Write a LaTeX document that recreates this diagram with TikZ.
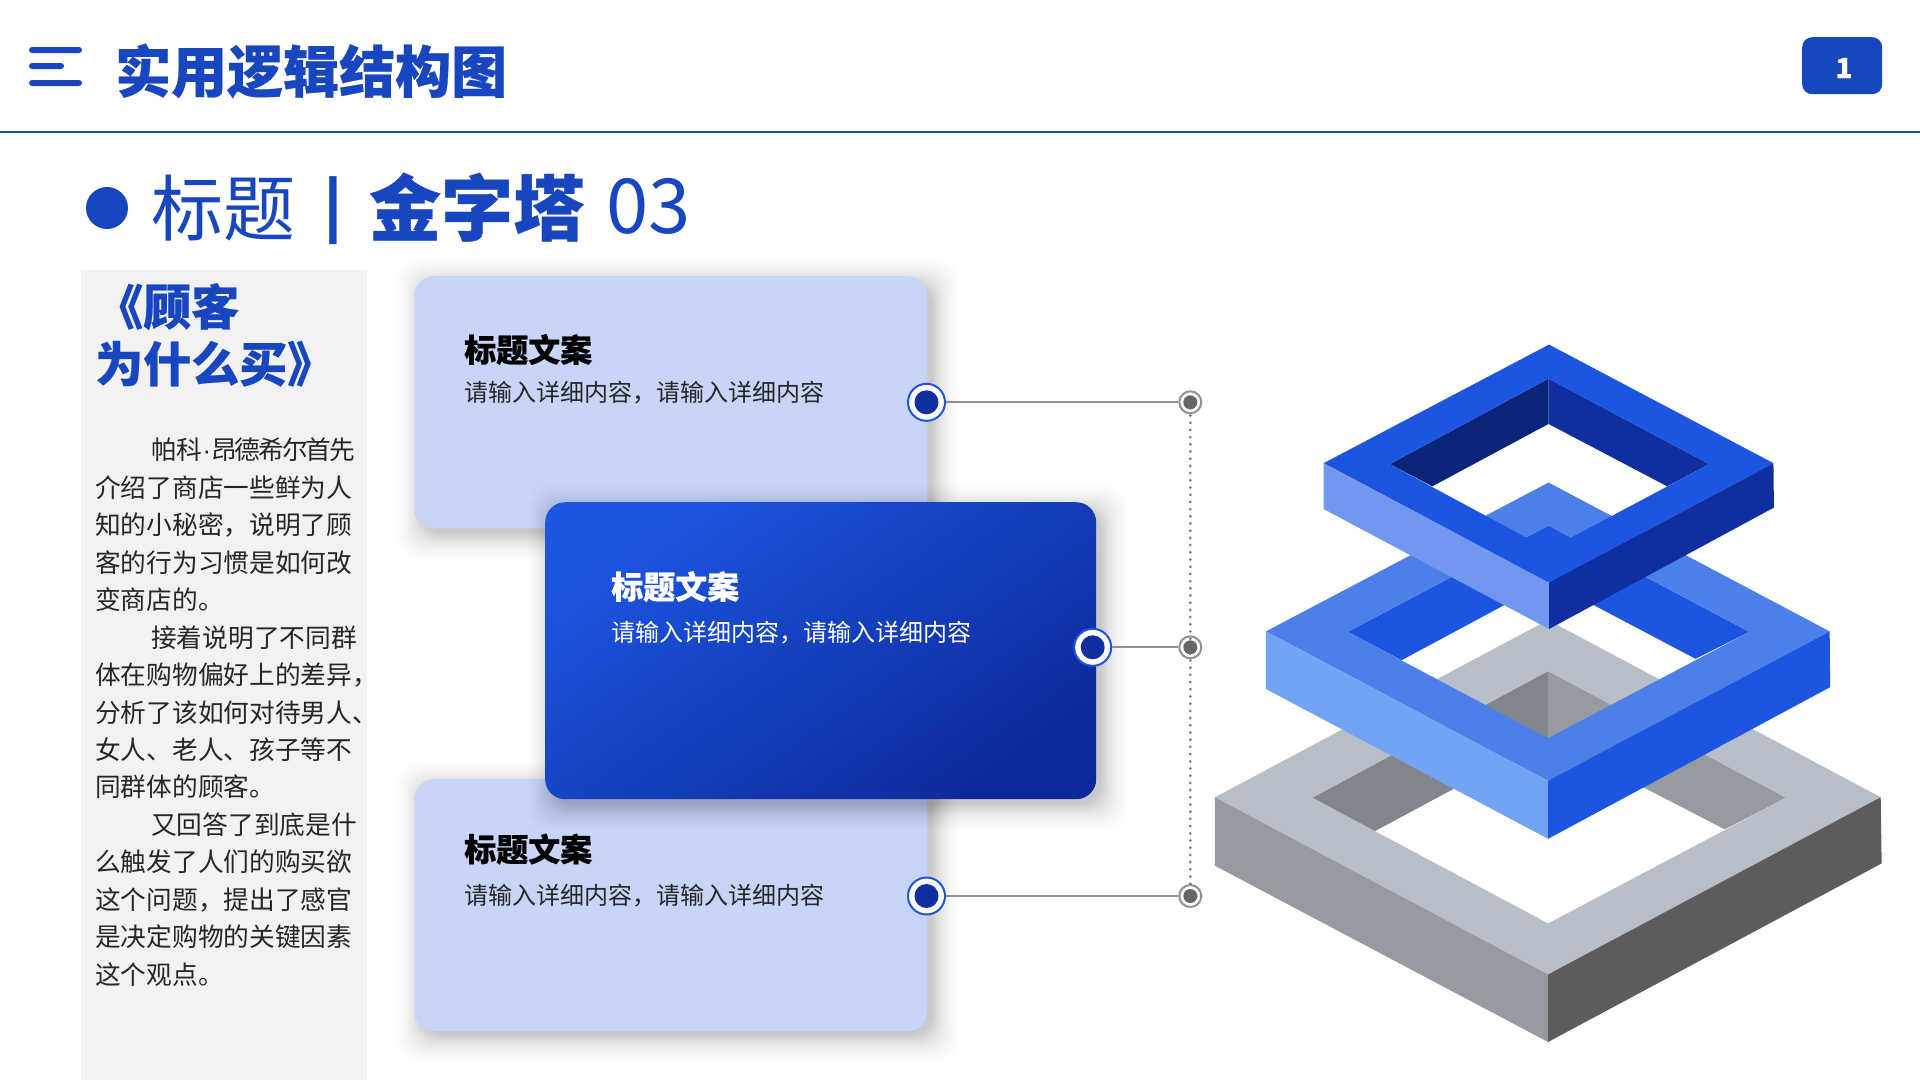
\documentclass[tikz,border=0pt]{standalone}
\usepackage{fontspec}
\setmainfont{Noto Sans CJK SC}[BoldFeatures={FakeBold=0.5}]
\newfontfamily\narrowfont{Liberation Sans}
\usetikzlibrary{calc}
\definecolor{brand}{HTML}{1746C0}
\definecolor{rule}{HTML}{1D49A8}
\definecolor{panel}{HTML}{F2F2F2}
\definecolor{cardlight}{HTML}{C8D5F8}
\definecolor{cardA}{HTML}{1C55E0}
\definecolor{cardB}{HTML}{0D2A9A}
\definecolor{dotblue}{HTML}{0F2FA0}
\definecolor{ringgrey}{HTML}{909090}
\definecolor{dotgrey}{HTML}{666666}
\definecolor{bodytext}{HTML}{262626}
\definecolor{tA}{HTML}{1C55E0}\definecolor{tL}{HTML}{7197EE}\definecolor{tR}{HTML}{0F2FA0}\definecolor{tD}{HTML}{0A2478}
\definecolor{mA}{HTML}{4C80E8}\definecolor{mL}{HTML}{72A3F5}\definecolor{mR}{HTML}{1C55E0}
\definecolor{gA}{HTML}{B7BEC7}\definecolor{gL}{HTML}{969BA2}\definecolor{gR}{HTML}{5C5C5C}\definecolor{gD}{HTML}{81868C}
\newcommand{\fs}[2]{\fontsize{#1}{#2}\selectfont}
\newcommand{\softshadow}[4]{% x y w h
  \foreach \e in {24,21,18.5,16,14,12,10.5,9,7.5,6,5,4,3,2,1,0,-1,-2}{
    \fill[black,opacity=0.012,rounded corners=22pt]
      ({#1+7-\e},{#2+7-\e}) rectangle ({#1+#3+7+\e},{#2+#4+7+\e});
  }}
\tikzset{
  lightcard/.style={anchor=north west,inner sep=0pt,minimum width=513pt,minimum height=252pt,fill=cardlight,rounded corners=20pt},
  bluecard/.style={anchor=north west,inner sep=0pt,minimum width=551pt,minimum height=298pt,rounded corners=20pt,left color=cardA,right color=cardB,shading angle=35},
  cardhead/.style={anchor=west,inner sep=0pt,font=\fs{32}{36}\bfseries},
  cardsub/.style={anchor=west,inner sep=0pt,font=\fs{24}{28}},
  bigring/.style={circle,fill=white,draw=cardA,line width=2pt,minimum size=37pt,inner sep=0pt},
  bigdot/.style={circle,fill=dotblue,minimum size=24pt,inner sep=0pt},
  smallring/.style={circle,fill=white,draw=ringgrey,line width=2pt,minimum size=22pt,inner sep=0pt},
  smalldot/.style={circle,fill=dotgrey,minimum size=14pt,inner sep=0pt},
  link/.style={draw=ringgrey,line width=2pt},
  dotlink/.style={draw=ringgrey!85!black,line width=3pt,line cap=round,dash pattern=on 0pt off 7.2pt},
  menubar/.style={fill=brand,rounded corners=3pt},
}
\begin{document}
\begin{tikzpicture}[x=1pt,y=-1pt]
\useasboundingbox (0,0) rectangle (1920,1080);
\fill[white] (0,0) rectangle (1920,1080);

% header
\fill[menubar] (29,47) rectangle (82,53);
\fill[menubar] (29,63) rectangle (64,69);
\fill[menubar] (29,80) rectangle (82,86);
\node[anchor=west,inner sep=0pt,text=brand,font=\fs{56}{60}\bfseries] (maintitle) at (115,71) {实用逻辑结构图};
\draw[rule,line width=2pt] (0,131.5) -- (1920,131.5);
\node[anchor=north west,inner sep=0pt,minimum width=80pt,minimum height=57pt,fill=brand,rounded corners=10pt] (badge) at (1802,37) {};
\node[text=white,font=\fs{28}{32}\bfseries,inner sep=0pt] (badgenum) at (1844,68) {1};

% subtitle
\fill[brand] (107,208) circle (21);
\node[anchor=base west,inner sep=0pt,text=brand,font=\fs{72}{76}] (subtitle) at (151,235)
  {标题\hspace{28.5pt}\raisebox{8pt}{\fs{59}{60}\bfseries|}\hspace{27pt}{\bfseries 金字塔}\hspace{21pt}\raisebox{2pt}{\fs{76}{80}03}};

% left panel
\fill[panel] (81,270) rectangle (367,1080);
\node[anchor=north west,inner sep=0pt,text=brand,align=left,font=\fs{48}{57}\bfseries] (booktitle) at (95,283)
  {《顾客\\为什么买》};
\node[anchor=north west,inner sep=0pt,text=bodytext,align=left,font=\fs{25.7}{37.45}] (booktext) at (95,438)
  {\hspace*{56pt}帕科{\narrowfont ·}{\addfontfeature{LetterSpace=-7.8}昂德希尔首先}\\
   介绍了商店一些鲜为人\\
   知的小秘密，说明了顾\\
   客的行为习惯是如何改\\
   变商店的。\\
   \hspace*{56pt}接着说明了不同群\\
   体在购物偏好上的差异，\\
   分析了该如何对待男人、\\
   女人、老人、孩子等不\\
   同群体的顾客。\\
   \hspace*{56pt}又回答了到底是什\\
   么触发了人们的购买欲\\
   这个问题，提出了感官\\
   是决定购物的关键因素\\
   这个观点。};

% cards
\softshadow{414}{276}{513}{252}
\node[lightcard] (card1) at (414,276) {};
\softshadow{414}{779}{513}{251}
\node[lightcard] (card3) at (414,779) {};
\softshadow{545}{502}{551}{297}
\node[bluecard,minimum height=297pt] (card2) at (545,502) {};

\node[cardhead,text=black] (h1) at (464,349.5) {标题文案};
\node[cardsub,text=bodytext] (s1) at (464,392.5) {请输入详细内容，请输入详细内容};
\node[cardhead,text=white] (h2) at (611,586.5) {标题文案};
\node[cardsub,text=white] (s2) at (611,632.5) {请输入详细内容，请输入详细内容};
\node[cardhead,text=black] (h3) at (464,849) {标题文案};
\node[cardsub,text=bodytext] (s3) at (464,896) {请输入详细内容，请输入详细内容};

% connectors
\node[bigring] (big1) at (926.5,402.3) {};
\node[bigring] (big2) at (1092.7,647.3) {};
\node[bigring] (big3) at (926.5,896) {};
\node[smallring] (end1) at (1190.3,402.3) {};
\node[smallring] (end2) at (1190.3,647.3) {};
\node[smallring] (end3) at (1190.3,896) {};
\draw[link] (big1) -- (end1);
\draw[link] (big2) -- (end2);
\draw[link] (big3) -- (end3);
\draw[dotlink] ([yshift=6pt]end1.south) -- ([yshift=-6pt]end2.north);
\draw[dotlink] ([yshift=6pt]end2.south) -- ([yshift=-6pt]end3.north);
\node[bigdot] at (big1) {};
\node[bigdot] at (big2) {};
\node[bigdot] at (big3) {};
\node[smalldot] at (end1) {};
\node[smalldot] at (end2) {};
\node[smalldot] at (end3) {};

% pyramid (coordinates in crop units)
\begin{scope}[shift={(1179.5,320)},x=0.4725pt,y=-0.4725pt]
  % grey layer
  \fill[gD] (780,743) -- (281,1011) -- (413,1082) -- (780,885) -- cycle;
  \fill[gL] (780,743) -- (1284,1011) -- (1154,1078) -- (780,885) -- cycle;
  \fill[gA,even odd rule] (780,635) -- (75,1010) -- (780,1385) -- (1484,1010) -- cycle
     (780,743) -- (281,1011) -- (780,1277) -- (1284,1011) -- cycle;
  \fill[gL] (75,1010) -- (780,1385) -- (780,1528) -- (75,1155) -- cycle;
  \fill[gR] (1484,1010) -- (780,1385) -- (780,1528) -- (1486,1150) -- cycle;
  % middle layer
  \fill[mR] (781,435) -- (356,660) -- (470,720) -- (781,553) -- (1092,717) -- (1206,660) -- cycle;
  \fill[mA,even odd rule] (781,344) -- (183,659) -- (780,975) -- (1376,659) -- cycle
     (781,435) -- (356,660) -- (780,885) -- (1206,660) -- cycle;
  \fill[mL] (183,659) -- (780,975) -- (780,1098) -- (183,781) -- cycle;
  \fill[mR] (1376,659) -- (780,975) -- (780,1098) -- (1377,777) -- cycle;
  % top layer
  \fill[tD] (781,124) -- (445,305) -- (535,352) -- (781,220) -- cycle;
  \fill[tR] (781,124) -- (1121,305) -- (1032,352) -- (781,220) -- cycle;
  \fill[tA,even odd rule] (782,52) -- (305,303) -- (782,556) -- (1257,303) -- cycle
     (781,124) -- (445,305) -- (781,486) -- (1121,305) -- cycle;
  \fill[tL] (305,303) -- (782,556) -- (782,654) -- (305,400) -- cycle;
  \fill[tR] (1257,303) -- (782,556) -- (782,654) -- (1258,397) -- cycle;
\end{scope}
\end{tikzpicture}
\end{document}
